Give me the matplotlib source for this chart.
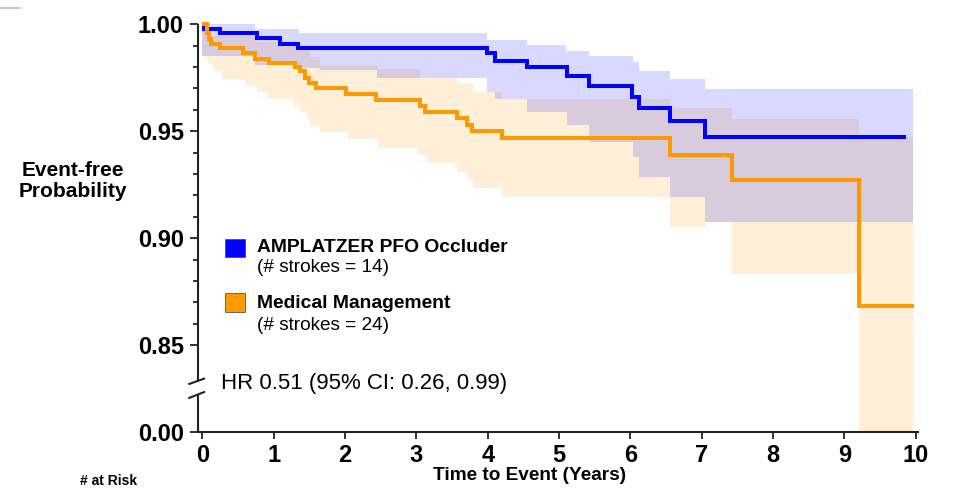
import numpy as np
import matplotlib
matplotlib.use("Agg")
import matplotlib.pyplot as plt
from matplotlib.patches import Rectangle
from matplotlib.lines import Line2D

plt.rcParams['font.family'] = ['Liberation Sans', 'DejaVu Sans']

# ---------------- data ----------------
# Kaplan-Meier curves (step starts) and end of follow-up
amp_t = [0, 0.03, 0.25, 0.76, 1.09, 1.34, 3.99, 4.10, 4.55, 5.11, 5.42, 6.02, 6.12, 6.55, 7.04]
amp_s = [1.0, 0.998, 0.9958, 0.9935, 0.991, 0.989, 0.9867, 0.983, 0.980, 0.9758, 0.9712,
         0.9662, 0.9607, 0.955, 0.9475]
amp_end = 9.86

med_t = [0, 0.06, 0.09, 0.12, 0.25, 0.57, 0.74, 0.93, 1.30, 1.37, 1.44, 1.49, 1.60, 2.02,
         2.44, 3.05, 3.12, 3.57, 3.71, 3.78, 4.20, 6.55, 7.43, 9.21]
med_s = [1.0, 0.996, 0.993, 0.991, 0.989, 0.9864, 0.984, 0.982, 0.980, 0.978, 0.975, 0.9724,
         0.970, 0.9674, 0.9646, 0.9618, 0.9592, 0.956, 0.953, 0.950, 0.9467, 0.9389, 0.927, 0.8684]
med_end = 9.97

# 95% confidence bands (step starts)
amp_hi_t = [0, 0.74, 1.35, 3.99, 4.55, 5.10, 5.42, 6.03, 6.12, 6.56, 7.04]
amp_hi = [1.0, 0.9977, 0.9958, 0.9927, 0.9903, 0.9875, 0.9853, 0.9822, 0.9783, 0.9743, 0.9696]
amp_lo_t = [0, 0.74, 1.35, 1.65, 2.45, 3.99, 4.10, 4.55, 5.11, 5.42, 6.03, 6.12, 6.55, 7.04]
amp_lo = [0.985, 0.981, 0.9794, 0.9786, 0.9748, 0.9685, 0.965, 0.9592, 0.953, 0.9451, 0.938,
          0.9288, 0.9194, 0.9077]
amp_band_end = 9.96

med_hi_t = [0, 0.06, 0.11, 0.74, 1.34, 1.51, 1.65, 2.46, 3.05, 3.57, 3.79, 4.20, 6.55, 7.43, 9.21]
med_hi = [1.0, 0.998, 0.9945, 0.9917, 0.988, 0.9847, 0.9805, 0.979, 0.9747, 0.9724, 0.9685,
          0.965, 0.961, 0.9557, 0.9475]
med_lo_t = [0, 0.08, 0.15, 0.28, 0.60, 0.77, 0.92, 1.27, 1.37, 1.47, 1.51, 1.65, 2.04, 2.46,
            3.02, 3.15, 3.57, 3.71, 3.80, 4.20, 6.55, 7.04, 7.43, 9.21]
med_lo = [0.9849, 0.9818, 0.9786, 0.9744, 0.9713, 0.9682, 0.9651, 0.9618, 0.9592, 0.9557,
          0.9525, 0.9495, 0.9463, 0.9424, 0.9389, 0.9353, 0.9312, 0.9272, 0.9235, 0.9194,
          0.9054, 0.9077, 0.8832, 0.0]
med_band_end = 9.96

x_ticks = list(range(0, 11))
y_major = [0.0, 0.85, 0.90, 0.95, 1.00]
y_major_labels = ["0.00", "0.85", "0.90", "0.95", "1.00"]
y_minor = [0.86, 0.87, 0.88, 0.89, 0.91, 0.92, 0.93, 0.94, 0.96, 0.97, 0.98, 0.99]

series_names = ["AMPLATZER PFO Occluder", "Medical Management"]
series_notes = ["(# strokes = 14)", "(# strokes = 24)"]
hr_text = "HR 0.51 (95% CI: 0.26, 0.99)"

BLUE = "#0000FF"
ORANGE = "#FF9900"

# ---------------- broken y scale ----------------
B = 0.834     # values below this are compressed
D0 = 0.8096   # display position of 0.00


def fwd(v):
    v = np.asarray(v, dtype=float)
    return np.where(v >= B, v, D0 + v * (B - D0) / B)


def inv(d):
    d = np.asarray(d, dtype=float)
    return np.where(d >= B, d, (d - D0) * B / (B - D0))


def step_lookup(starts, vals, grid):
    starts = np.asarray(starts)
    vals = np.asarray(vals)
    idx = np.searchsorted(starts, grid, side="right") - 1
    return vals[np.clip(idx, 0, len(vals) - 1)]


def band(ax, hi_t, hi, lo_t, lo, end, color):
    grid = np.unique(np.concatenate([hi_t, lo_t, [end]]))
    h = step_lookup(hi_t, hi, grid)
    l = step_lookup(lo_t, lo, grid)
    ax.fill_between(grid, l, h, step="post", facecolor=color, alpha=0.15,
                    linewidth=0, zorder=1)


W, H = 957, 491
fig = plt.figure(figsize=(W / 100, H / 100), dpi=100)
ax_l, ax_r, ax_b, ax_t = 198.3, 918.3, 431.7, 24.3
ax = fig.add_axes([ax_l / W, 1 - ax_b / H, (ax_r - ax_l) / W, (ax_b - ax_t) / H])
ax.set_yscale("function", functions=(fwd, inv))
ax.set_xlim(-0.056, 10.035)
ax.set_ylim(0.0, 1.0)

band(ax, med_hi_t, med_hi, med_lo_t, med_lo, med_band_end, ORANGE)
band(ax, amp_hi_t, amp_hi, amp_lo_t, amp_lo, amp_band_end, BLUE)

ax.step(amp_t + [amp_end], amp_s + [amp_s[-1]], where="post", color=BLUE, lw=2.9,
        zorder=3, clip_on=False, solid_joinstyle="miter", solid_capstyle="butt")
ax.step(med_t + [med_end], med_s + [med_s[-1]], where="post", color=ORANGE, lw=2.9,
        zorder=4, clip_on=False, solid_joinstyle="miter", solid_capstyle="butt")

# axes styling
for s in ["top", "right", "left"]:
    ax.spines[s].set_visible(False)
ax.spines["bottom"].set_linewidth(1.5)
ax.spines["bottom"].set_color("#222222")

ax.set_xticks(x_ticks)
ax.set_xticklabels([str(t) for t in x_ticks])
ax.set_yticks(y_major)
ax.set_yticklabels(y_major_labels)
ax.tick_params(axis="x", length=5, width=1.3, pad=4, labelsize=17, color="#222222")
ax.tick_params(axis="y", which="major", length=5.5, width=1.3, pad=5, labelsize=17,
               color="#222222")
ax.tick_params(axis="y", which="minor", length=3.4, width=1.3, color="#222222")
for lab in ax.get_xticklabels() + ax.get_yticklabels():
    lab.set_fontweight("bold")
ax.minorticks_on()
ax.xaxis.set_minor_locator(matplotlib.ticker.NullLocator())
ax.set_yticks(y_minor, minor=True)

# broken left spine
axh = ax_b - ax_t
axw = ax_r - ax_l
def yf(px):
    return (ax_b - px) / axh
def xf(px):
    return (px - ax_l) / axw
spine_kw = dict(transform=ax.transAxes, color="#222222", lw=1.5, clip_on=False,
                solid_capstyle="butt")
ax.add_line(Line2D([0, 0], [1.0, yf(381)], **spine_kw))
ax.add_line(Line2D([0, 0], [yf(395), 0.0], **spine_kw))
ax.add_line(Line2D([xf(188.3), xf(205)], [yf(384.3), yf(378.3)], **spine_kw))
ax.add_line(Line2D([xf(188.3), xf(205)], [yf(398.3), yf(391.7)], **spine_kw))

# legend (manual)
def fx(px):
    return px / W
def fy(px):
    return 1 - px / H
fig.patches.append(Rectangle((fx(225), fy(257)), 20 / W, 18 / H, transform=fig.transFigure,
                             facecolor=BLUE, edgecolor="#333399", lw=0.5))
fig.patches.append(Rectangle((fx(225), fy(312)), 20 / W, 19 / H, transform=fig.transFigure,
                             facecolor=ORANGE, edgecolor="#555555", lw=0.6))
fig.text(fx(257), fy(247), series_names[0], fontsize=13.9, fontweight="bold", va="center",
         ha="left")
fig.text(fx(257), fy(268), series_notes[0], fontsize=13.7, va="center", ha="left")
fig.text(fx(257), fy(303), series_names[1], fontsize=13.9, fontweight="bold", va="center",
         ha="left")
fig.text(fx(257), fy(325), series_notes[1], fontsize=13.7, va="center", ha="left")

fig.text(fx(221), fy(383), hr_text, fontsize=16, va="center", ha="left")

fig.text(fx(73), fy(181), "Event-free\nProbability", fontsize=15, fontweight="bold",
         ha="center", va="center", linespacing=1.15)
fig.text(fx(530), fy(476), "Time to Event (Years)", fontsize=13.7, fontweight="bold",
         ha="center", va="center")
fig.text(fx(80), fy(481), "# at Risk", fontsize=10, fontweight="bold", ha="left",
         va="center")

# small grey mark at the top-left corner
fig.add_artist(Line2D([0, fx(20)], [fy(8), fy(8)], transform=fig.transFigure,
                      color="#bbbbbb", lw=1.2))

fig.savefig("out.png", dpi=100)
